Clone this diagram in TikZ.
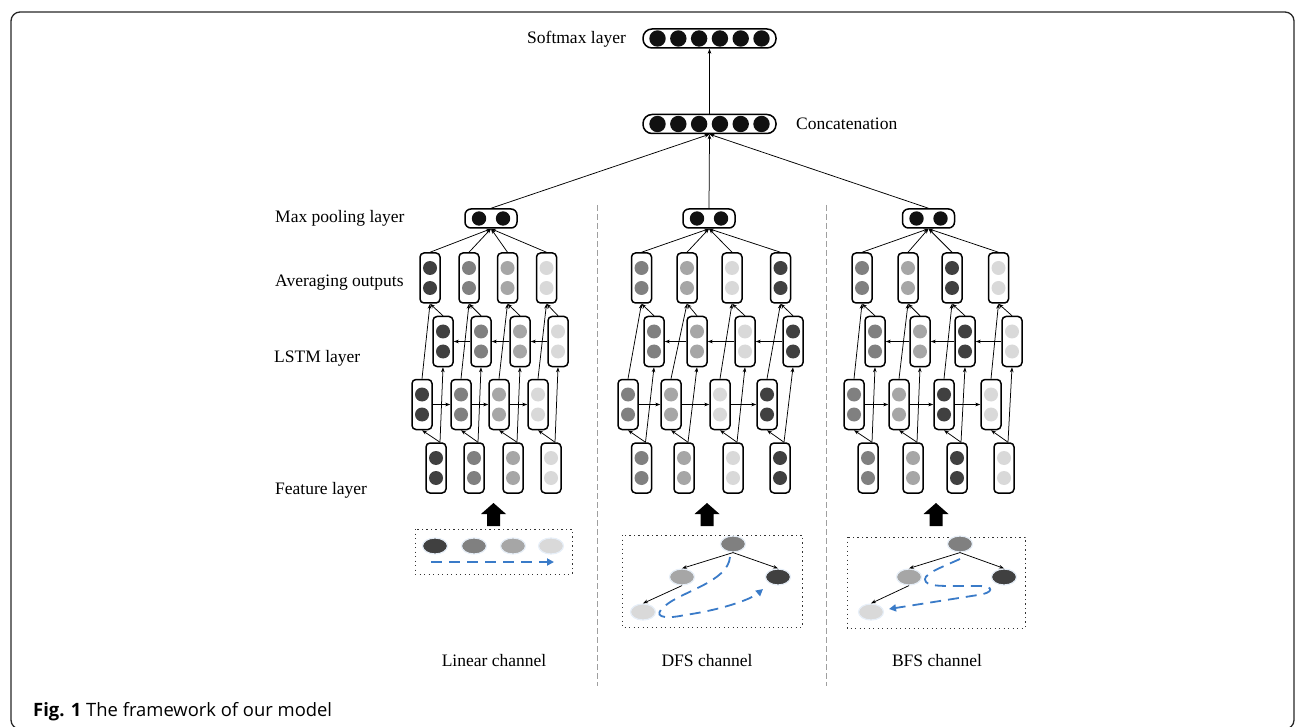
\documentclass[tikz,border=0pt]{standalone}
\usepackage{fontspec}
\setmainfont{Liberation Serif}
\newfontfamily\capfont{Open Sans}
\usetikzlibrary{arrows.meta,shapes.geometric}
\definecolor{gA}{HTML}{404040}
\definecolor{gB}{HTML}{808080}
\definecolor{gC}{HTML}{A6A6A6}
\definecolor{gD}{HTML}{D9D9D9}
\definecolor{pathblue}{HTML}{3A7BC8}
\definecolor{dotblack}{HTML}{111111}
\newcommand\cellat[4]{%
  \node[cell] (#1) at (#2,#3) {};
  \fill[#4] (#2,#3-10) circle (7pt);
  \fill[#4] (#2,#3+10) circle (7pt);
}
\newcommand\channel[3]{%
  \node[pool] (#1m) at (#2,218.5) {};
  \fill[dotblack] (#2-12,218.5) circle (7.2pt);
  \fill[dotblack] (#2+12,218.5) circle (7.2pt);
  \foreach \i/\fx/\lx/\bx/\ax/\c in {#3}{%
    \cellat{#1f\i}{\fx}{468}{\c}
    \cellat{#1l\i}{\lx}{404.5}{\c}
    \cellat{#1b\i}{\bx}{341.5}{\c}
    \cellat{#1a\i}{\ax}{278}{\c}
  }
  \foreach \i in {1,...,4}{%
    \draw[arr] ([xshift=4pt]#1f\i.north) -- (#1l\i.south);
    \draw[arr] ([xshift=4pt]#1f\i.north) -- (#1b\i.south);
    \draw[arr] (#1l\i.north) -- (#1a\i.south);
    \draw[arr] (#1b\i.north) -- (#1a\i.south);
    \draw[arr] (#1a\i.north) -- (#1m.south);
  }
  \foreach \i/\j in {1/2,2/3,3/4}{%
    \draw[arr] (#1l\i.east) -- (#1l\j.west);
    \draw[arr] (#1b\j.west) -- (#1b\i.east);
  }
}
\newcommand\blockup[1]{%
  \fill (#1-6.5,526) -- (#1-6.5,514) -- (#1-12.5,514) -- (#1,503) -- (#1+12.5,514) -- (#1+6.5,514) -- (#1+6.5,526) -- cycle;
}
\begin{document}
\begin{tikzpicture}[x=1pt,y=-1pt,
  cell/.style={draw,line width=1.5pt,rounded corners=4pt,minimum width=20pt,minimum height=50pt,inner sep=0pt,fill=white},
  pool/.style={draw,line width=1.5pt,rounded corners=6pt,minimum width=52pt,minimum height=19pt,inner sep=0pt},
  wide/.style={draw,line width=1.5pt,rounded corners=9pt,minimum width=133pt,minimum height=19pt,inner sep=0pt},
  arr/.style={-{Stealth[length=5pt,width=3.6pt]},line width=0.75pt},
  lab/.style={font=\fontsize{17.5}{20}\selectfont,inner sep=0pt},
  tnode/.style={ellipse,minimum width=25pt,minimum height=16pt,inner sep=0pt,draw=pathblue!12,line width=1.2pt},
  bluepath/.style={draw=pathblue,line width=1.8pt,dash pattern=on 11pt off 7pt,-{Triangle[length=7pt,width=7pt]}},
  sep/.style={draw=gray!75,line width=0.9pt,dash pattern=on 6pt off 3pt},
  dotbox/.style={draw=black!80,line width=1pt,dash pattern=on 1.2pt off 3.3pt},
  tedge/.style={-{Stealth[length=5pt,width=3.6pt]},line width=0.75pt},
]
\useasboundingbox (0,0) rectangle (1296,727);
\draw[line width=1.3pt,draw=black!85,rounded corners=9pt] (11,12) rectangle (1294,729);

% top layers
\node[wide] (soft) at (709.5,38.5) {};
\node[wide] (conc) at (709.5,124) {};
\foreach \k in {-52,-31.2,-10.4,10.4,31.2,52}{
  \fill[dotblack] (709.5+\k,38.5) circle (8.2pt);
  \fill[dotblack] (709.5+\k,124) circle (8.2pt);
}
\draw[arr] (conc.north) -- (soft.south);
\node[lab,anchor=west] (tsoft) at (527,39) {Softmax layer};
\node[lab,anchor=west] (tconc) at (796,124) {Concatenation};

% channels
\channel{L}{491}{1/436/422/443/430/gA,2/474/461/481/469/gB,3/513/499/520/507.5/gC,4/551/538/558/546.5/gD}
\channel{D}{709}{1/641.5/628/654/641.5/gB,2/684/671/697/687/gC,3/733/720/745/732/gD,4/780/767/793/780.5/gA}
\channel{B}{928.5}{1/868/854/875/862/gB,2/913/899/920/908/gC,3/957/944/965/952/gA,4/1004/991/1012/998.5/gD}

\draw[arr] (Lm.north) -- (conc.south);
\draw[arr] (Dm.north) -- (conc.south);
\draw[arr] (Bm.north) -- (conc.south);

% row labels
\node[lab,anchor=west] (tmax) at (275,218) {Max pooling layer};
\node[lab,anchor=west] (tavg) at (275,283) {Averaging outputs};
\node[lab,anchor=west] (tlstm) at (274,358) {LSTM layer};
\node[lab,anchor=west] (tfeat) at (275,490) {Feature layer};

% separators
\draw[sep] (597,205) -- (597,686);
\draw[sep] (826,205) -- (826,686);

% block arrows
\blockup{493.5}
\blockup{707}
\blockup{936}

% linear channel input
\draw[dotbox] (415,529) rectangle (572,574);
\node[tnode,fill=gA] (Ln1) at (435,546) {};
\node[tnode,fill=gB] (Ln2) at (474,546) {};
\node[tnode,fill=gC] (Ln3) at (513,546) {};
\node[tnode,fill=gD] (Ln4) at (551,546) {};
\coordinate (Ls) at (431,562);
\coordinate (Le) at (554,562);
\draw[bluepath] (Ls) -- (Le);

% DFS tree
\draw[dotbox] (622,535) rectangle (802,627);
\node[tnode,fill=gB] (Dr) at (733,544) {};
\node[tnode,fill=gC] (Dlc) at (682,577) {};
\node[tnode,fill=gA] (Drc) at (778,577) {};
\node[tnode,fill=gD] (Dll) at (643,612) {};
\draw[tedge] (Dr.south) -- (Dlc.north);
\draw[tedge] (Dr.south) -- (Drc.north);
\draw[tedge] (Dlc.south) -- (Dll.north);
\coordinate (Ds) at (730,557);
\coordinate (De) at (763,589);
\draw[bluepath] (Ds) .. controls (728,582) and (680,592) .. (665,606)
  .. controls (652,616) and (662,620) .. (685,615)
  .. controls (720,610) and (750,600) .. (De);

% BFS tree
\draw[dotbox] (847,537) rectangle (1025,628);
\node[tnode,fill=gB] (Br) at (960,544) {};
\node[tnode,fill=gC] (Blc) at (909,577) {};
\node[tnode,fill=gA] (Brc) at (1004,577) {};
\node[tnode,fill=gD] (Bll) at (871,612) {};
\draw[tedge] (Br.south) -- (Blc.north);
\draw[tedge] (Br.south) -- (Brc.north);
\draw[tedge] (Blc.south) -- (Bll.north);
\coordinate (Bs) at (960,559);
\coordinate (Be) at (889,609);
\draw[bluepath] (Bs) .. controls (940,568) and (920,575) .. (926,582)
  .. controls (930,586) and (940,586) .. (955,586) -- (980,586)
  .. controls (994,586) and (994,593) .. (978,595) -- (Be);

% channel labels
\node[lab] (tlin) at (494,661) {Linear channel};
\node[lab] (tdfs) at (707,661) {DFS channel};
\node[lab] (tbfs) at (937,661) {BFS channel};

% caption
\node[anchor=base west,inner sep=0pt,font=\capfont\fontsize{18.4}{22}\selectfont] (cap) at (33,716) {\textbf{Fig. 1} The framework of our model};
\end{tikzpicture}
\end{document}
